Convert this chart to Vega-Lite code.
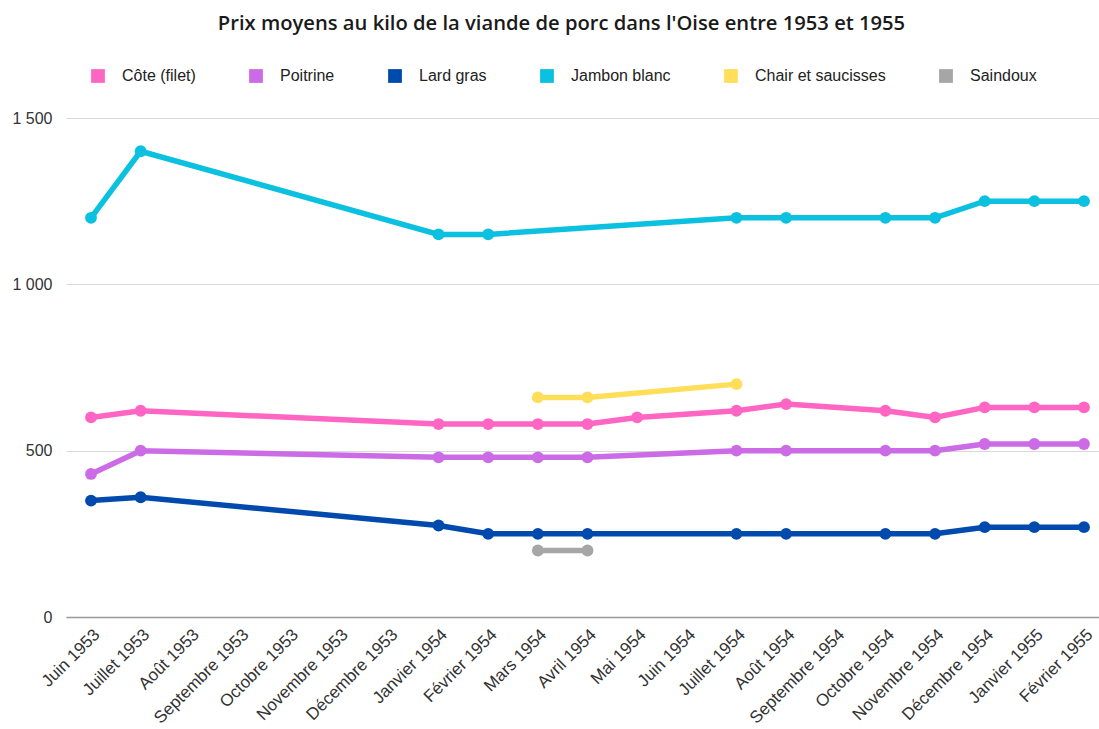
{
  "$schema": "https://vega.github.io/schema/vega-lite/v6.json",
  "width": 1033,
  "height": 499,
  "autosize": {"type": "none"},
  "padding": {"left": 66, "top": 118, "right": 0, "bottom": 112},
  "background": "white",
  "title": {
    "text": "Prix moyens au kilo de la viande de porc dans l'Oise entre 1953 et 1955",
    "font": "Open Sans",
    "fontSize": 20.2,
    "fontWeight": 600,
    "color": "#1a1a1a",
    "anchor": "middle",
    "frame": "group",
    "dx": -21,
    "offset": 34
  },
  "config": {
    "view": {"stroke": null},
    "font": "Liberation Sans"
  },
  "data": {
    "values": [
      {"m": "Juin 1953", "s": "Côte (filet)", "v": 600},
      {"m": "Juillet 1953", "s": "Côte (filet)", "v": 620},
      {"m": "Janvier 1954", "s": "Côte (filet)", "v": 580},
      {"m": "Février 1954", "s": "Côte (filet)", "v": 580},
      {"m": "Mars 1954", "s": "Côte (filet)", "v": 580},
      {"m": "Avril 1954", "s": "Côte (filet)", "v": 580},
      {"m": "Mai 1954", "s": "Côte (filet)", "v": 600},
      {"m": "Juillet 1954", "s": "Côte (filet)", "v": 620},
      {"m": "Août 1954", "s": "Côte (filet)", "v": 640},
      {"m": "Octobre 1954", "s": "Côte (filet)", "v": 620},
      {"m": "Novembre 1954", "s": "Côte (filet)", "v": 600},
      {"m": "Décembre 1954", "s": "Côte (filet)", "v": 630},
      {"m": "Janvier 1955", "s": "Côte (filet)", "v": 630},
      {"m": "Février 1955", "s": "Côte (filet)", "v": 630},
      {"m": "Juin 1953", "s": "Poitrine", "v": 430},
      {"m": "Juillet 1953", "s": "Poitrine", "v": 500},
      {"m": "Janvier 1954", "s": "Poitrine", "v": 480},
      {"m": "Février 1954", "s": "Poitrine", "v": 480},
      {"m": "Mars 1954", "s": "Poitrine", "v": 480},
      {"m": "Avril 1954", "s": "Poitrine", "v": 480},
      {"m": "Juillet 1954", "s": "Poitrine", "v": 500},
      {"m": "Août 1954", "s": "Poitrine", "v": 500},
      {"m": "Octobre 1954", "s": "Poitrine", "v": 500},
      {"m": "Novembre 1954", "s": "Poitrine", "v": 500},
      {"m": "Décembre 1954", "s": "Poitrine", "v": 520},
      {"m": "Janvier 1955", "s": "Poitrine", "v": 520},
      {"m": "Février 1955", "s": "Poitrine", "v": 520},
      {"m": "Juin 1953", "s": "Lard gras", "v": 350},
      {"m": "Juillet 1953", "s": "Lard gras", "v": 360},
      {"m": "Janvier 1954", "s": "Lard gras", "v": 275},
      {"m": "Février 1954", "s": "Lard gras", "v": 250},
      {"m": "Mars 1954", "s": "Lard gras", "v": 250},
      {"m": "Avril 1954", "s": "Lard gras", "v": 250},
      {"m": "Juillet 1954", "s": "Lard gras", "v": 250},
      {"m": "Août 1954", "s": "Lard gras", "v": 250},
      {"m": "Octobre 1954", "s": "Lard gras", "v": 250},
      {"m": "Novembre 1954", "s": "Lard gras", "v": 250},
      {"m": "Décembre 1954", "s": "Lard gras", "v": 270},
      {"m": "Janvier 1955", "s": "Lard gras", "v": 270},
      {"m": "Février 1955", "s": "Lard gras", "v": 270},
      {"m": "Juin 1953", "s": "Jambon blanc", "v": 1200},
      {"m": "Juillet 1953", "s": "Jambon blanc", "v": 1400},
      {"m": "Janvier 1954", "s": "Jambon blanc", "v": 1150},
      {"m": "Février 1954", "s": "Jambon blanc", "v": 1150},
      {"m": "Juillet 1954", "s": "Jambon blanc", "v": 1200},
      {"m": "Août 1954", "s": "Jambon blanc", "v": 1200},
      {"m": "Octobre 1954", "s": "Jambon blanc", "v": 1200},
      {"m": "Novembre 1954", "s": "Jambon blanc", "v": 1200},
      {"m": "Décembre 1954", "s": "Jambon blanc", "v": 1250},
      {"m": "Janvier 1955", "s": "Jambon blanc", "v": 1250},
      {"m": "Février 1955", "s": "Jambon blanc", "v": 1250},
      {"m": "Mars 1954", "s": "Chair et saucisses", "v": 660},
      {"m": "Avril 1954", "s": "Chair et saucisses", "v": 660},
      {"m": "Juillet 1954", "s": "Chair et saucisses", "v": 700},
      {"m": "Mars 1954", "s": "Saindoux", "v": 200},
      {"m": "Avril 1954", "s": "Saindoux", "v": 200}
    ]
  },
  "mark": {
    "type": "line",
    "strokeWidth": 5.5,
    "point": {"filled": true, "size": 140, "opacity": 1}
  },
  "encoding": {
    "x": {
      "field": "m",
      "type": "ordinal",
      "sort": ["Juin 1953", "Juillet 1953", "Août 1953", "Septembre 1953", "Octobre 1953", "Novembre 1953", "Décembre 1953", "Janvier 1954", "Février 1954", "Mars 1954", "Avril 1954", "Mai 1954", "Juin 1954", "Juillet 1954", "Août 1954", "Septembre 1954", "Octobre 1954", "Novembre 1954", "Décembre 1954", "Janvier 1955", "Février 1955"],
      "scale": {
        "type": "point",
        "domain": ["Juin 1953", "Juillet 1953", "Août 1953", "Septembre 1953", "Octobre 1953", "Novembre 1953", "Décembre 1953", "Janvier 1954", "Février 1954", "Mars 1954", "Avril 1954", "Mai 1954", "Juin 1954", "Juillet 1954", "Août 1954", "Septembre 1954", "Octobre 1954", "Novembre 1954", "Décembre 1954", "Janvier 1955", "Février 1955"],
        "padding": 0.403,
        "align": 0.625
      },
      "axis": {
        "title": null,
        "labelAngle": -45,
        "labelAlign": "right",
        "labelBaseline": "top",
        "labelFont": "Liberation Sans",
        "labelFontSize": 17,
        "labelColor": "#333333",
        "labelPadding": 9,
        "ticks": false,
        "domain": true,
        "domainColor": "#999999",
        "domainWidth": 1.5,
        "grid": false,
        "labelOverlap": false
      }
    },
    "y": {
      "field": "v",
      "type": "quantitative",
      "scale": {"domain": [0, 1500], "nice": false},
      "axis": {
        "title": null,
        "values": [0, 500, 1000, 1500],
        "labelExpr": "replace(format(datum.value, ','), ',', ' ')",
        "labelFont": "Liberation Sans",
        "labelFontSize": 16,
        "labelColor": "#333333",
        "labelPadding": 14,
        "ticks": false,
        "domain": false,
        "grid": true,
        "gridColor": "#d9d9d9",
        "gridWidth": 1
      }
    },
    "color": {
      "field": "s",
      "type": "nominal",
      "scale": {
        "domain": ["Côte (filet)", "Poitrine", "Lard gras", "Jambon blanc", "Chair et saucisses", "Saindoux"],
        "range": ["#FF66C4", "#CB6CE6", "#004AAD", "#0CC0DF", "#FFDE59", "#A6A6A6"]
      },
      "legend": {
        "title": null,
        "orient": "none",
        "direction": "horizontal",
        "legendX": 24,
        "legendY": -50,
        "symbolType": "square",
        "symbolSize": 190,
        "symbolStrokeWidth": 0,
        "symbolOpacity": 1,
        "labelFont": "Liberation Sans",
        "labelFontSize": 16,
        "labelColor": "#222222",
        "labelOffset": 16,
        "columnPadding": 52
      }
    }
  }
}
